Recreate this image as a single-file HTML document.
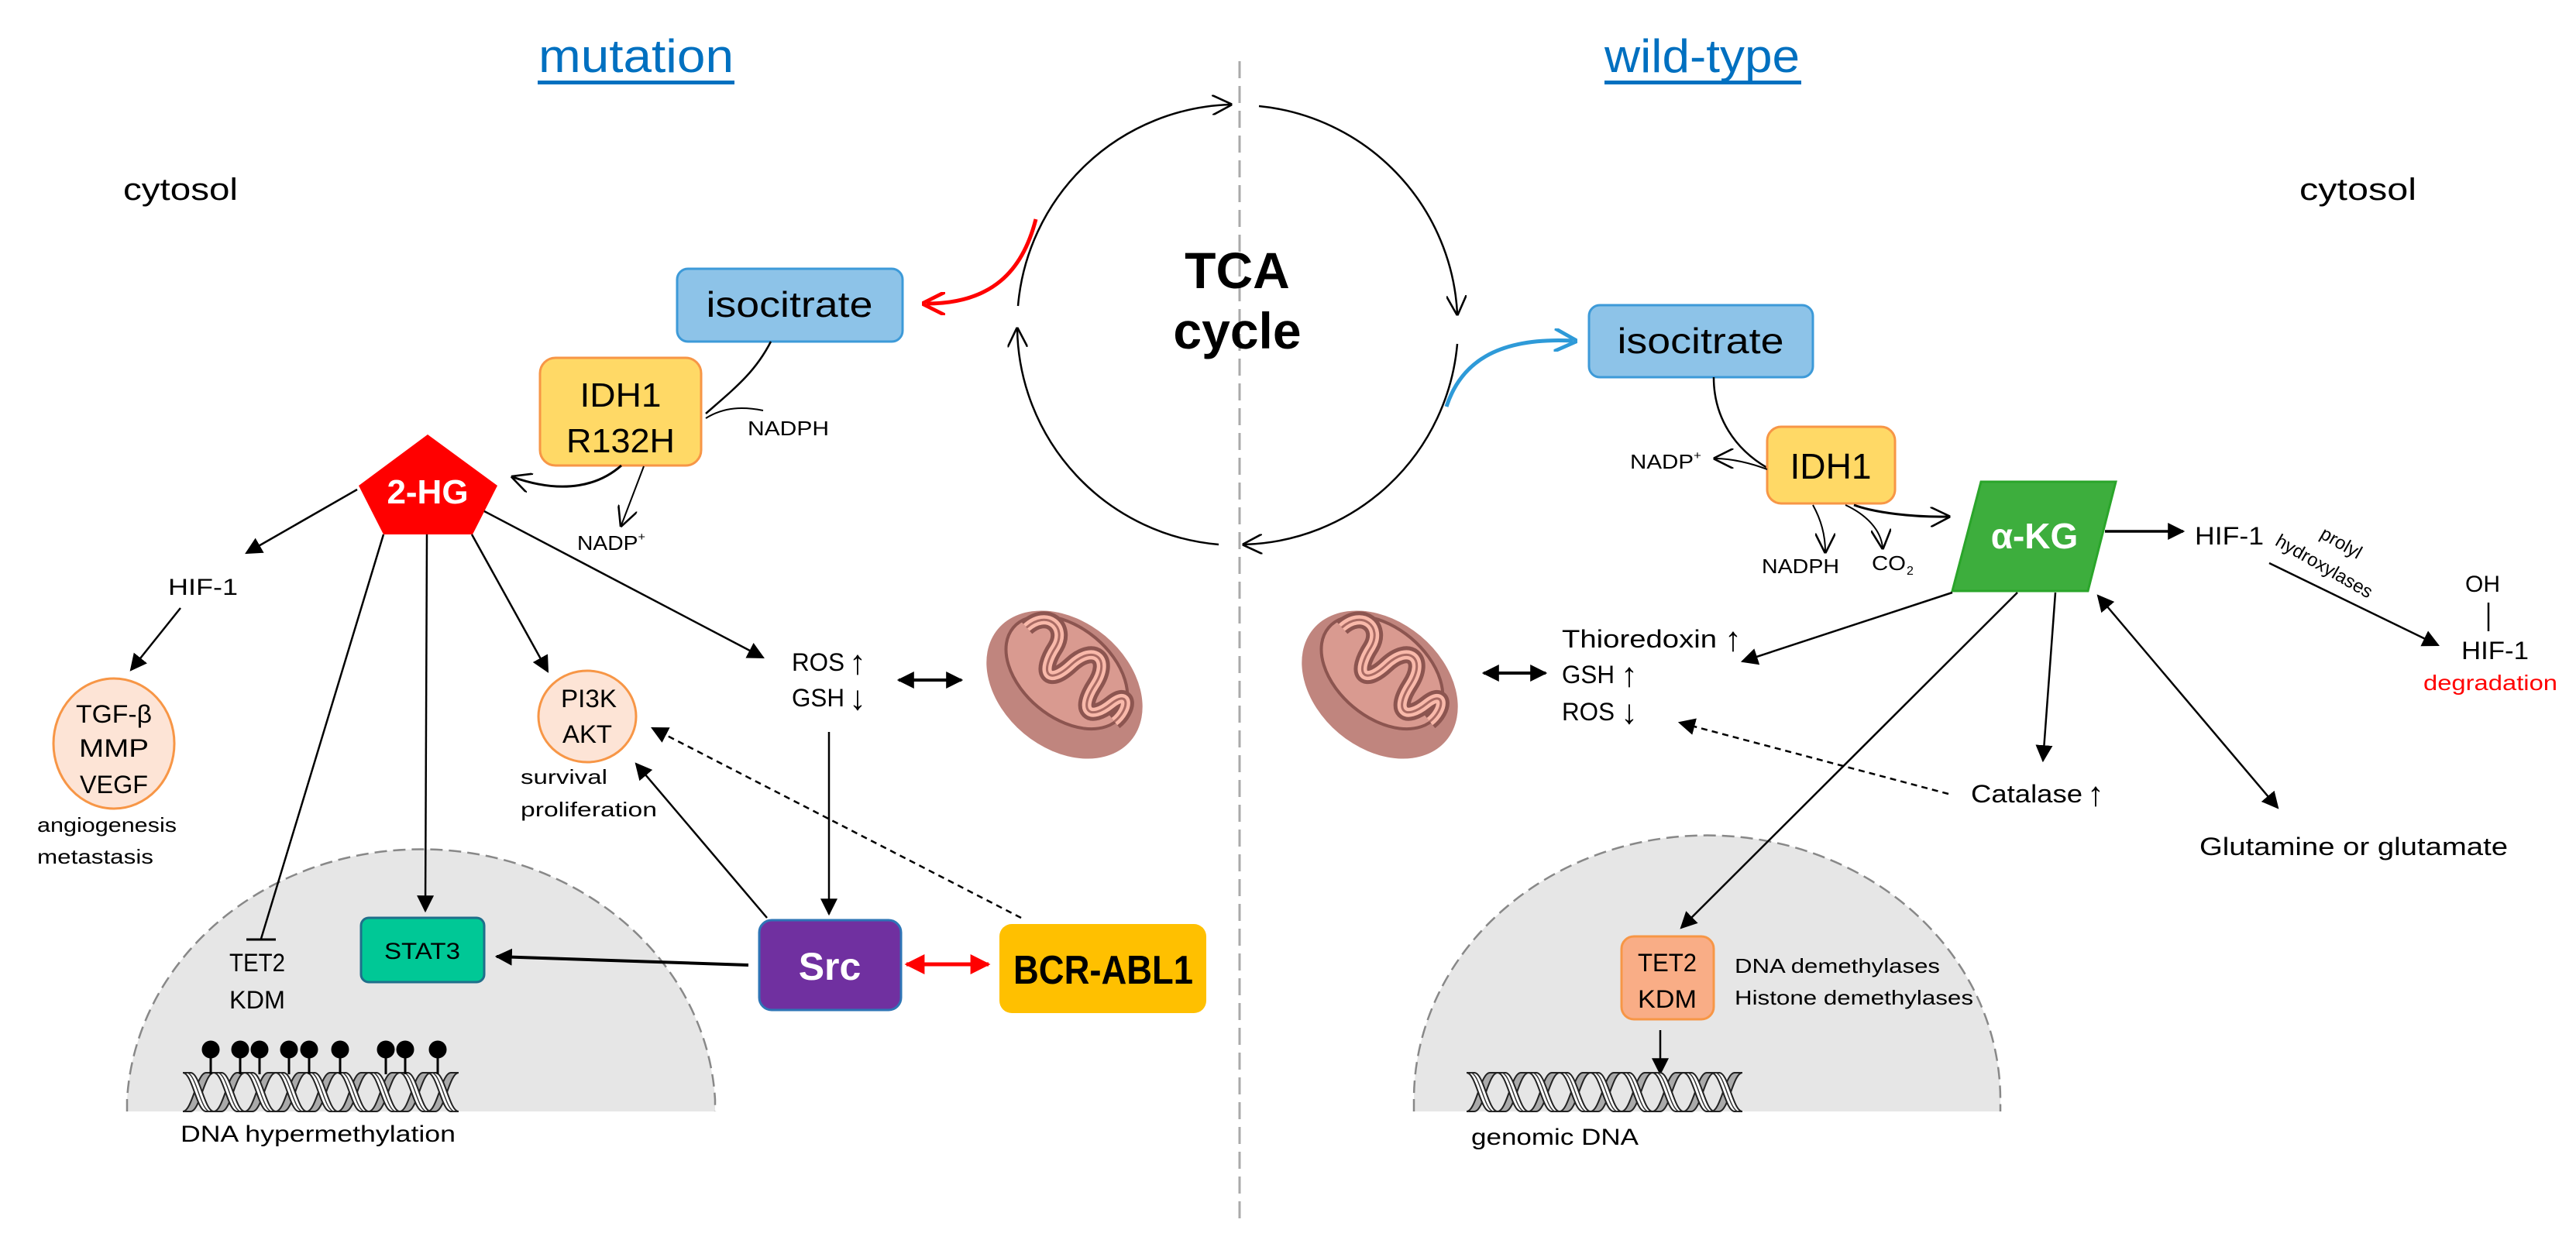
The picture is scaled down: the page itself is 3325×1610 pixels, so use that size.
<!DOCTYPE html>
<html><head><meta charset="utf-8"><style>
html,body{margin:0;padding:0;background:#fff}
svg{display:block}
text{font-family:"Liberation Sans",sans-serif}
</style></head><body>
<svg width="3325" height="1610" viewBox="0 0 3325 1610" xmlns="http://www.w3.org/2000/svg">
<defs>
<marker id="fa" viewBox="0 0 10 10" refX="9" refY="5" markerWidth="22" markerHeight="22" markerUnits="userSpaceOnUse" orient="auto-start-reverse"><path d="M0,0 L10,5 L0,10 z" fill="#000"/></marker>
<marker id="oa" viewBox="0 0 10 10" refX="9" refY="5" markerWidth="26" markerHeight="26" markerUnits="userSpaceOnUse" orient="auto"><path d="M0,0 L10,5 L0,10" fill="none" stroke="#000" stroke-width="1"/></marker>
<marker id="ra" viewBox="0 0 10 10" refX="9" refY="5" markerWidth="26" markerHeight="26" markerUnits="userSpaceOnUse" orient="auto-start-reverse"><path d="M0,0 L10,5 L0,10 z" fill="#f00"/></marker>
<marker id="ro" viewBox="0 0 10 10" refX="8" refY="5" markerWidth="30" markerHeight="30" markerUnits="userSpaceOnUse" orient="auto"><path d="M0,0 L10,5 L0,10" fill="none" stroke="#f00" stroke-width="1.6"/></marker>
<marker id="bo" viewBox="0 0 10 10" refX="8" refY="5" markerWidth="30" markerHeight="30" markerUnits="userSpaceOnUse" orient="auto"><path d="M0,0 L10,5 L0,10" fill="none" stroke="#2e9ad8" stroke-width="1.6"/></marker>
<g id="helix">
  <path d="M0,50 C12,50 18,0 30,0 L40,0 C28,0 22,50 10,50 Z" stroke="#222" stroke-width="2" fill="#aaa"/>
  <path d="M0,0 C12,0 18,50 30,50 L40,50 C28,50 22,0 10,0 Z" stroke="#222" stroke-width="2" fill="#fff"/>
  <path d="M5,0 C17,0 23,50 35,50" stroke="#333" stroke-width="1.5" fill="none"/>
</g>
<g id="mito">
  <ellipse cx="0" cy="0" rx="112" ry="82" fill="#c0857e"/>
  <ellipse cx="-8" cy="-14" rx="90" ry="58" fill="#d99a90" stroke="#8c5550" stroke-width="4"/>
  <path d="M-85,-25 C-80,-60 -45,-60 -40,-30 C-35,10 -15,15 -10,-25 C-5,-65 25,-65 30,-25 C35,15 55,15 62,-20 C68,-50 85,-30 80,-5" fill="none" stroke="#8c5550" stroke-width="22"/>
  <path d="M-85,-25 C-80,-60 -45,-60 -40,-30 C-35,10 -15,15 -10,-25 C-5,-65 25,-65 30,-25 C35,15 55,15 62,-20 C68,-50 85,-30 80,-5" fill="none" stroke="#f9b9aa" stroke-width="12"/>
  <path d="M-85,-25 C-80,-60 -45,-60 -40,-30 C-35,10 -15,15 -10,-25 C-5,-65 25,-65 30,-25 C35,15 55,15 62,-20 C68,-50 85,-30 80,-5" fill="none" stroke="#a86a63" stroke-width="3"/>
</g>
</defs>

<!-- nuclei (background) -->
<path d="M164,1435 L164,1420 A380,341 0 0 1 923,1420 L923,1435 Z" fill="#e6e6e6"/>
<path d="M164,1435 L164,1420 A380,341 0 0 1 923,1420 L923,1435" fill="none" stroke="#888" stroke-width="2.5" stroke-dasharray="16,8"/>
<path d="M1825,1435 L1825,1420 A378,341 0 0 1 2582,1420 L2582,1435 Z" fill="#e6e6e6"/>
<path d="M1825,1435 L1825,1420 A378,341 0 0 1 2582,1420 L2582,1435" fill="none" stroke="#888" stroke-width="2.5" stroke-dasharray="16,8"/>

<!-- divider -->
<line x1="1600" y1="79" x2="1600" y2="1575" stroke="#aaa" stroke-width="3" stroke-dasharray="22,10"/>

<!-- titles -->
<text x="821" y="93" font-size="60" fill="#0070c0" text-anchor="middle" textLength="252" lengthAdjust="spacingAndGlyphs">mutation</text>
<rect x="694" y="104" width="254" height="5" fill="#0070c0"/>
<text x="2197" y="93" font-size="60" fill="#0070c0" text-anchor="middle" textLength="252" lengthAdjust="spacingAndGlyphs">wild-type</text>
<rect x="2071" y="104" width="254" height="5" fill="#0070c0"/>
<text x="159" y="258" font-size="40" textLength="148" lengthAdjust="spacingAndGlyphs">cytosol</text>
<text x="2968" y="258" font-size="40" textLength="151" lengthAdjust="spacingAndGlyphs">cytosol</text>

<!-- TCA cycle -->
<g fill="none" stroke="#000" stroke-width="2.5">
<path d="M1314,395 A284,284 0 0 1 1588,135" marker-end="url(#oa)"/>
<path d="M1625,137 A284,284 0 0 1 1881,405" marker-end="url(#oa)"/>
<path d="M1881,444 A284,284 0 0 1 1606,703" marker-end="url(#oa)"/>
<path d="M1573,703 A284,284 0 0 1 1313,425" marker-end="url(#oa)"/>
</g>
<text x="1597" y="372" font-size="66" font-weight="bold" text-anchor="middle">TCA</text>
<text x="1597" y="450" font-size="66" font-weight="bold" text-anchor="middle">cycle</text>
<path d="M1337,283 C1320,350 1280,392 1196,392" fill="none" stroke="#f00" stroke-width="5" marker-end="url(#ro)"/>
<path d="M1867,525 C1885,470 1930,435 2030,440" fill="none" stroke="#2e9ad8" stroke-width="5" marker-end="url(#bo)"/>

<!-- LEFT SIDE -->
<rect x="874" y="347" width="291" height="94" rx="14" fill="#8dc3e8" stroke="#3d9ad8" stroke-width="3"/>
<text x="1019" y="409" font-size="46" text-anchor="middle" textLength="215" lengthAdjust="spacingAndGlyphs">isocitrate</text>
<rect x="697" y="462" width="208" height="139" rx="20" fill="#ffd966" stroke="#f79646" stroke-width="3"/>
<text x="801" y="525" font-size="44" text-anchor="middle" textLength="105" lengthAdjust="spacingAndGlyphs">IDH1</text>
<text x="801" y="584" font-size="44" text-anchor="middle" textLength="140" lengthAdjust="spacingAndGlyphs">R132H</text>
<path d="M995,441 C975,480 950,500 911,534" fill="none" stroke="#000" stroke-width="2.5"/>
<path d="M911,540 C935,525 960,525 985,530" fill="none" stroke="#000" stroke-width="2"/>
<text x="965" y="562" font-size="26" textLength="105" lengthAdjust="spacingAndGlyphs">NADPH</text>
<path d="M802,601 C775,625 730,640 662,616" fill="none" stroke="#000" stroke-width="3" marker-end="url(#oa)"/>
<path d="M831,602 L802,678" fill="none" stroke="#000" stroke-width="2" marker-end="url(#oa)"/>
<text x="745" y="710" font-size="26" textLength="88" lengthAdjust="spacingAndGlyphs">NADP<tspan font-size="15" dy="-12">+</tspan></text>

<polygon points="552,561 642,627 610,690 495,690 463,627" fill="#ff0000"/>
<text x="552" y="650" font-size="44" font-weight="bold" fill="#fff" text-anchor="middle">2-HG</text>

<g stroke="#000" stroke-width="2.5" fill="none">
<line x1="461" y1="632" x2="318" y2="714" marker-end="url(#fa)"/>
<line x1="233" y1="785" x2="169" y2="865" marker-end="url(#fa)"/>
<line x1="495" y1="690" x2="337" y2="1212"/>
<line x1="318" y1="1213" x2="356" y2="1213" stroke-width="3"/>
<line x1="551" y1="690" x2="549" y2="1176" marker-end="url(#fa)"/>
<line x1="609" y1="690" x2="707" y2="867" marker-end="url(#fa)"/>
<line x1="625" y1="660" x2="985" y2="849" marker-end="url(#fa)"/>
<line x1="1160" y1="878" x2="1241" y2="878" stroke-width="4" marker-end="url(#fa)" marker-start="url(#fa)"/>
<line x1="1070" y1="945" x2="1070" y2="1180" marker-end="url(#fa)"/>
<line x1="966" y1="1246" x2="641" y2="1235" stroke-width="4" marker-end="url(#fa)"/>
<line x1="990" y1="1185" x2="821" y2="986" marker-end="url(#fa)"/>
<line x1="1318" y1="1185" x2="842" y2="940" stroke-dasharray="8,6" marker-end="url(#fa)"/>
</g>
<text x="217" y="768" font-size="30" textLength="90" lengthAdjust="spacingAndGlyphs">HIF-1</text>

<ellipse cx="147" cy="960" rx="78" ry="84" fill="#fde4d6" stroke="#f79646" stroke-width="3"/>
<text x="147" y="933" font-size="32" text-anchor="middle" textLength="98" lengthAdjust="spacingAndGlyphs">TGF-β</text>
<text x="147" y="977" font-size="32" text-anchor="middle" textLength="90" lengthAdjust="spacingAndGlyphs">MMP</text>
<text x="147" y="1024" font-size="32" text-anchor="middle" textLength="88" lengthAdjust="spacingAndGlyphs">VEGF</text>
<text x="48" y="1074" font-size="26" textLength="180" lengthAdjust="spacingAndGlyphs">angiogenesis</text>
<text x="48" y="1115" font-size="26" textLength="150" lengthAdjust="spacingAndGlyphs">metastasis</text>

<ellipse cx="758" cy="925" rx="63" ry="59" fill="#fde4d6" stroke="#f79646" stroke-width="3"/>
<text x="760" y="913" font-size="32" text-anchor="middle" textLength="72" lengthAdjust="spacingAndGlyphs">PI3K</text>
<text x="758" y="959" font-size="32" text-anchor="middle" textLength="64" lengthAdjust="spacingAndGlyphs">AKT</text>
<text x="672" y="1012" font-size="26" textLength="112" lengthAdjust="spacingAndGlyphs">survival</text>
<text x="672" y="1054" font-size="26" textLength="176" lengthAdjust="spacingAndGlyphs">proliferation</text>

<text x="1022" y="866" font-size="32" textLength="68" lengthAdjust="spacingAndGlyphs">ROS</text>
<text x="1096" y="870" font-size="44" textLength="22" lengthAdjust="spacingAndGlyphs">↑</text>
<text x="1022" y="912" font-size="32" textLength="68" lengthAdjust="spacingAndGlyphs">GSH</text>
<text x="1096" y="916" font-size="44" textLength="22" lengthAdjust="spacingAndGlyphs">↓</text>
<use href="#mito" transform="translate(1374,884) rotate(40)"/>

<rect x="466" y="1185" width="159" height="83" rx="10" fill="#00c896" stroke="#1f6f8b" stroke-width="3"/>
<text x="545" y="1238" font-size="30" text-anchor="middle" textLength="98" lengthAdjust="spacingAndGlyphs">STAT3</text>
<text x="332" y="1254" font-size="32" text-anchor="middle" textLength="72" lengthAdjust="spacingAndGlyphs">TET2</text>
<text x="332" y="1302" font-size="32" text-anchor="middle" textLength="72" lengthAdjust="spacingAndGlyphs">KDM</text>

<rect x="980" y="1188" width="183" height="116" rx="16" fill="#7030a0" stroke="#2e75b6" stroke-width="3"/>
<text x="1071" y="1265" font-size="50" font-weight="bold" fill="#fff" text-anchor="middle">Src</text>
<rect x="1290" y="1193" width="267" height="115" rx="16" fill="#ffc000"/>
<text x="1424" y="1270" font-size="52" font-weight="bold" text-anchor="middle" textLength="232" lengthAdjust="spacingAndGlyphs">BCR-ABL1</text>
<line x1="1170" y1="1245" x2="1276" y2="1245" stroke="#f00" stroke-width="5" marker-end="url(#ra)" marker-start="url(#ra)"/>

<g>
<use href="#helix" x="236" y="1385"/><use href="#helix" x="276" y="1385"/><use href="#helix" x="316" y="1385"/><use href="#helix" x="356" y="1385"/><use href="#helix" x="396" y="1385"/><use href="#helix" x="436" y="1385"/><use href="#helix" x="476" y="1385"/><use href="#helix" x="516" y="1385"/><use href="#helix" x="552" y="1385"/>
</g>
<g stroke="#000" stroke-width="3" fill="#000">
<line x1="272" y1="1355" x2="272" y2="1387"/><circle cx="272" cy="1355" r="10"/>
<line x1="310" y1="1355" x2="310" y2="1387"/><circle cx="310" cy="1355" r="10"/>
<line x1="335" y1="1355" x2="335" y2="1387"/><circle cx="335" cy="1355" r="10"/>
<line x1="373" y1="1355" x2="373" y2="1387"/><circle cx="373" cy="1355" r="10"/>
<line x1="399" y1="1355" x2="399" y2="1387"/><circle cx="399" cy="1355" r="10"/>
<line x1="439" y1="1355" x2="439" y2="1387"/><circle cx="439" cy="1355" r="10"/>
<line x1="498" y1="1355" x2="498" y2="1387"/><circle cx="498" cy="1355" r="10"/>
<line x1="523" y1="1355" x2="523" y2="1387"/><circle cx="523" cy="1355" r="10"/>
<line x1="565" y1="1355" x2="565" y2="1387"/><circle cx="565" cy="1355" r="10"/>
</g>
<text x="233" y="1474" font-size="30" textLength="355" lengthAdjust="spacingAndGlyphs">DNA hypermethylation</text>

<!-- RIGHT SIDE -->
<rect x="2051" y="394" width="289" height="93" rx="14" fill="#8dc3e8" stroke="#3d9ad8" stroke-width="3"/>
<text x="2195" y="456" font-size="46" text-anchor="middle" textLength="215" lengthAdjust="spacingAndGlyphs">isocitrate</text>
<path d="M2212,487 C2212,540 2240,580 2281,604" fill="none" stroke="#000" stroke-width="2.5"/>
<rect x="2281" y="551" width="165" height="99" rx="18" fill="#ffd966" stroke="#f79646" stroke-width="3"/>
<text x="2363" y="618" font-size="46" text-anchor="middle" textLength="105" lengthAdjust="spacingAndGlyphs">IDH1</text>
<path d="M2281,606 C2260,598 2235,592 2214,592" fill="none" stroke="#000" stroke-width="2" marker-end="url(#oa)"/>
<text x="2104" y="605" font-size="26" textLength="92" lengthAdjust="spacingAndGlyphs">NADP<tspan font-size="15" dy="-12">+</tspan></text>
<path d="M2340,652 C2350,670 2356,690 2356,712" fill="none" stroke="#000" stroke-width="2" marker-end="url(#oa)"/>
<path d="M2382,652 C2410,665 2428,685 2430,707" fill="none" stroke="#000" stroke-width="2" marker-end="url(#oa)"/>
<path d="M2393,652 C2420,662 2470,668 2515,667" fill="none" stroke="#000" stroke-width="3" marker-end="url(#oa)"/>
<text x="2274" y="740" font-size="26" textLength="100" lengthAdjust="spacingAndGlyphs">NADPH</text>
<text x="2416" y="736" font-size="26" textLength="44" lengthAdjust="spacingAndGlyphs">CO</text><text x="2461" y="742" font-size="16">2</text>

<polygon points="2557,622 2731,622 2695,763 2520,763" fill="#3dae3d" stroke="#2aa52a" stroke-width="3"/>
<text x="2626" y="708" font-size="46" font-weight="bold" fill="#fff" text-anchor="middle">α-KG</text>

<g stroke="#000" stroke-width="2.5" fill="none">
<line x1="2717" y1="686" x2="2818" y2="686" stroke-width="3.5" marker-end="url(#fa)"/>
<line x1="2929" y1="727" x2="3147" y2="833" marker-end="url(#fa)"/>
<line x1="3212" y1="778" x2="3212" y2="815"/>
<line x1="2520" y1="765" x2="2249" y2="854" marker-end="url(#fa)"/>
<line x1="2604" y1="765" x2="2170" y2="1198" marker-end="url(#fa)"/>
<line x1="2653" y1="765" x2="2637" y2="982" marker-end="url(#fa)"/>
<line x1="2708" y1="769" x2="2940" y2="1043" marker-end="url(#fa)" marker-start="url(#fa)"/>
<line x1="2515" y1="1025" x2="2168" y2="933" stroke-dasharray="8,6" marker-end="url(#fa)"/>
<line x1="1915" y1="869" x2="1995" y2="869" stroke-width="4" marker-end="url(#fa)" marker-start="url(#fa)"/>
<line x1="2143" y1="1330" x2="2143" y2="1386" marker-end="url(#fa)"/>
</g>
<text x="2833" y="703" font-size="32" textLength="89" lengthAdjust="spacingAndGlyphs">HIF-1</text>
<text transform="translate(3018,708) rotate(30)" font-size="24" text-anchor="middle">prolyl</text>
<text transform="translate(2996,738) rotate(30)" font-size="24" text-anchor="middle">hydroxylases</text>
<text x="3182" y="764" font-size="30">OH</text>
<text x="3177" y="851" font-size="32" textLength="87" lengthAdjust="spacingAndGlyphs">HIF-1</text>
<text x="3128" y="891" font-size="28" fill="#f00" textLength="173" lengthAdjust="spacingAndGlyphs">degradation</text>

<use href="#mito" transform="translate(1781,884) rotate(40)"/>
<text x="2016" y="836" font-size="32" textLength="200" lengthAdjust="spacingAndGlyphs">Thioredoxin</text><text x="2226" y="840" font-size="44" textLength="22" lengthAdjust="spacingAndGlyphs">↑</text>
<text x="2016" y="882" font-size="32" textLength="68" lengthAdjust="spacingAndGlyphs">GSH</text><text x="2092" y="886" font-size="44" textLength="22" lengthAdjust="spacingAndGlyphs">↑</text>
<text x="2016" y="930" font-size="32" textLength="68" lengthAdjust="spacingAndGlyphs">ROS</text><text x="2092" y="934" font-size="44" textLength="22" lengthAdjust="spacingAndGlyphs">↓</text>
<text x="2544" y="1036" font-size="32" textLength="144" lengthAdjust="spacingAndGlyphs">Catalase</text><text x="2694" y="1040" font-size="44" textLength="22" lengthAdjust="spacingAndGlyphs">↑</text>
<text x="2839" y="1104" font-size="32" textLength="398" lengthAdjust="spacingAndGlyphs">Glutamine or glutamate</text>

<rect x="2093" y="1209" width="119" height="107" rx="16" fill="#f9ad86" stroke="#f79646" stroke-width="3"/>
<text x="2152" y="1254" font-size="32" text-anchor="middle" textLength="76" lengthAdjust="spacingAndGlyphs">TET2</text>
<text x="2152" y="1301" font-size="32" text-anchor="middle" textLength="76" lengthAdjust="spacingAndGlyphs">KDM</text>
<text x="2239" y="1256" font-size="26" textLength="265" lengthAdjust="spacingAndGlyphs">DNA demethylases</text>
<text x="2239" y="1297" font-size="26" textLength="308" lengthAdjust="spacingAndGlyphs">Histone demethylases</text>
<g>
<use href="#helix" x="1893" y="1385"/><use href="#helix" x="1933" y="1385"/><use href="#helix" x="1973" y="1385"/><use href="#helix" x="2013" y="1385"/><use href="#helix" x="2053" y="1385"/><use href="#helix" x="2093" y="1385"/><use href="#helix" x="2133" y="1385"/><use href="#helix" x="2173" y="1385"/><use href="#helix" x="2209" y="1385"/>
</g>
<text x="1899" y="1478" font-size="30" textLength="216" lengthAdjust="spacingAndGlyphs">genomic DNA</text>
</svg>
</body></html>
